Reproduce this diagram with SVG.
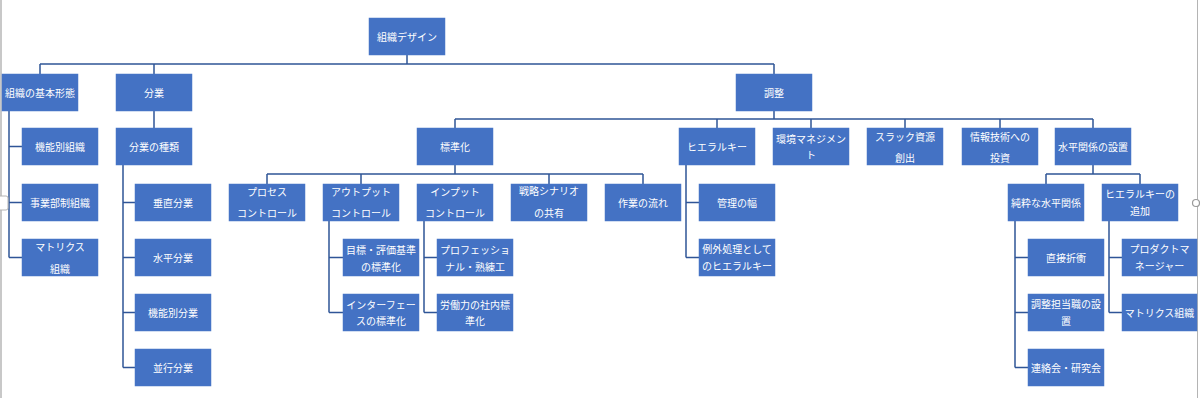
<svg xmlns="http://www.w3.org/2000/svg" width="1200" height="398" viewBox="0 0 1200 398">
<style>
.b{fill:#4472C4;stroke:#4a78c8;stroke-width:0.5}
.t{fill:#ffffff;font-family:"Noto Sans CJK JP","Noto Sans",sans-serif;font-size:10px;text-anchor:middle;dominant-baseline:central}
.c{fill:none;stroke:#2F5597;stroke-width:1.5}
</style>
<rect x="0" y="0" width="1200" height="398" fill="#ffffff"/>
<rect x="0" y="0" width="2" height="398" fill="#c8c8c8"/>
<line x1="1197.5" y1="0" x2="1197.5" y2="398" stroke="#b4b4b4" stroke-width="1"/>
<g id="connectors">
<path class="c" d="M407 55V64M40 64H774M40 64V74M154 64V74M774 64V74"/>
<path class="c" d="M9 111V257.5M9 146.5H22M9 202.5H22M9 257.5H22"/>
<path class="c" d="M154 111V128"/>
<path class="c" d="M123 165V367.5M123 202.5H135M123 257.5H135M123 312.5H135M123 367.5H135"/>
<path class="c" d="M774 111V119M455 119H1093M455 119V128M717 119V128M811 119V128M905 119V128M1000 119V128M1093 119V128"/>
<path class="c" d="M455 165V174M267 174H643M267 174V184M361 174V184M549 174V184M643 174V184"/>
<path class="c" d="M329 221V312.5M329 257.5H343M329 312.5H343"/>
<path class="c" d="M424 221V312.5M424 257.5H437M424 312.5H437"/>
<path class="c" d="M686 165V257.5M686 202.5H699M686 257.5H699"/>
<path class="c" d="M1093 165V174M1046 174H1140M1046 174V184M1140 174V184"/>
<path class="c" d="M1015 221V367.5M1015 257.5H1028M1015 312.5H1028M1015 367.5H1028"/>
<path class="c" d="M1109 221V312.5M1109 257.5H1122M1109 312.5H1122"/>
</g>
<g id="n_root"><rect class="b" x="369" y="18" width="76" height="37"/><text class="t" x="407" y="36.5">組織デザイン</text></g>
<g id="n_kihon"><rect class="b" x="2" y="74" width="76" height="37"/><text class="t" x="40" y="92.5">組織の基本形態</text></g>
<g id="n_bungyo"><rect class="b" x="116" y="74" width="76" height="37"/><text class="t" x="154" y="92.5">分業</text></g>
<g id="n_chosei"><rect class="b" x="736" y="74" width="76" height="37"/><text class="t" x="774" y="92.5">調整</text></g>
<g id="n_kinobetsu"><rect class="b" x="22" y="128" width="76" height="37"/><text class="t" x="60" y="146.5">機能別組織</text></g>
<g id="n_jigyobu"><rect class="b" x="22" y="184" width="76" height="37"/><text class="t" x="60" y="202.5">事業部制組織</text></g>
<g id="n_matrix1"><rect class="b" x="22" y="239" width="76" height="37"/><text class="t" x="60" y="246">マトリクス</text><text class="t" x="60" y="268">組織</text></g>
<g id="n_shurui"><rect class="b" x="116" y="128" width="76" height="37"/><text class="t" x="154" y="146.5">分業の種類</text></g>
<g id="n_suichoku"><rect class="b" x="135" y="184" width="76" height="37"/><text class="t" x="173" y="202.5">垂直分業</text></g>
<g id="n_suihei"><rect class="b" x="135" y="239" width="76" height="37"/><text class="t" x="173" y="257.5">水平分業</text></g>
<g id="n_kinobungyo"><rect class="b" x="135" y="294" width="76" height="37"/><text class="t" x="173" y="312.5">機能別分業</text></g>
<g id="n_heiko"><rect class="b" x="135" y="349" width="76" height="37"/><text class="t" x="173" y="367.5">並行分業</text></g>
<g id="n_hyojunka"><rect class="b" x="417" y="128" width="76" height="37"/><text class="t" x="455" y="146.5">標準化</text></g>
<g id="n_hierarchy"><rect class="b" x="679" y="128" width="76" height="37"/><text class="t" x="717" y="146.5">ヒエラルキー</text></g>
<g id="n_kankyo"><rect class="b" x="773" y="128" width="76" height="37"/><text class="t" x="811" y="138">環境マネジメン</text><text class="t" x="811" y="154">ト</text></g>
<g id="n_slack"><rect class="b" x="867" y="128" width="76" height="37"/><text class="t" x="905" y="136">スラック資源</text><text class="t" x="905" y="157.5">創出</text></g>
<g id="n_joho"><rect class="b" x="962" y="128" width="76" height="37"/><text class="t" x="1000" y="136">情報技術への</text><text class="t" x="1000" y="157">投資</text></g>
<g id="n_suiheikankei"><rect class="b" x="1055" y="128" width="76" height="37"/><text class="t" x="1093" y="146.5">水平関係の設置</text></g>
<g id="n_process"><rect class="b" x="229" y="184" width="76" height="37"/><text class="t" x="267" y="191">プロセス</text><text class="t" x="267" y="212">コントロール</text></g>
<g id="n_output"><rect class="b" x="323" y="184" width="76" height="37"/><text class="t" x="361" y="191">アウトプット</text><text class="t" x="361" y="212">コントロール</text></g>
<g id="n_input"><rect class="b" x="417" y="184" width="76" height="37"/><text class="t" x="455" y="191">インプット</text><text class="t" x="455" y="212">コントロール</text></g>
<g id="n_senryaku"><rect class="b" x="511" y="184" width="76" height="37"/><text class="t" x="549" y="190">戦略シナリオ</text><text class="t" x="549" y="212">の共有</text></g>
<g id="n_sagyo"><rect class="b" x="605" y="184" width="76" height="37"/><text class="t" x="643" y="202.5">作業の流れ</text></g>
<g id="n_mokuhyo"><rect class="b" x="343" y="239" width="76" height="37"/><text class="t" x="381" y="249">目標・評価基準</text><text class="t" x="381" y="266">の標準化</text></g>
<g id="n_interface"><rect class="b" x="343" y="294" width="76" height="37"/><text class="t" x="381" y="304">インターフェー</text><text class="t" x="381" y="320">スの標準化</text></g>
<g id="n_professional"><rect class="b" x="437" y="239" width="76" height="37"/><text class="t" x="475" y="249">プロフェッショ</text><text class="t" x="475" y="266">ナル・熟練工</text></g>
<g id="n_rodoryoku"><rect class="b" x="437" y="294" width="76" height="37"/><text class="t" x="475" y="304">労働力の社内標</text><text class="t" x="475" y="320">準化</text></g>
<g id="n_kanri"><rect class="b" x="699" y="184" width="76" height="37"/><text class="t" x="737" y="202.5">管理の幅</text></g>
<g id="n_reigai"><rect class="b" x="699" y="239" width="76" height="37"/><text class="t" x="737" y="248">例外処理として</text><text class="t" x="737" y="265">のヒエラルキー</text></g>
<g id="n_junsui"><rect class="b" x="1008" y="184" width="76" height="37"/><text class="t" x="1046" y="202.5">純粋な水平関係</text></g>
<g id="n_tsuika"><rect class="b" x="1102" y="184" width="76" height="37"/><text class="t" x="1140" y="193">ヒエラルキーの</text><text class="t" x="1140" y="210">追加</text></g>
<g id="n_chokusetsu"><rect class="b" x="1028" y="239" width="76" height="37"/><text class="t" x="1066" y="257.5">直接折衝</text></g>
<g id="n_tanto"><rect class="b" x="1028" y="294" width="76" height="37"/><text class="t" x="1066" y="303">調整担当職の設</text><text class="t" x="1066" y="320">置</text></g>
<g id="n_renraku"><rect class="b" x="1028" y="349" width="76" height="37"/><text class="t" x="1066" y="367.5">連絡会・研究会</text></g>
<g id="n_product"><rect class="b" x="1122" y="239" width="75" height="37"/><text class="t" x="1159.5" y="248">プロダクトマ</text><text class="t" x="1159.5" y="265">ネージャー</text></g>
<g id="n_matrix2"><rect class="b" x="1122" y="294" width="75" height="37"/><text class="t" x="1159.5" y="312.5">マトリクス組織</text></g>
<rect x="-3" y="196" width="11" height="14" rx="2" fill="#ffffff" stroke="#b4b4b4" stroke-width="1"/>
<circle cx="1196" cy="203" r="3.5" fill="#ffffff" stroke="#9a9a9a" stroke-width="1.2"/>
</svg>
